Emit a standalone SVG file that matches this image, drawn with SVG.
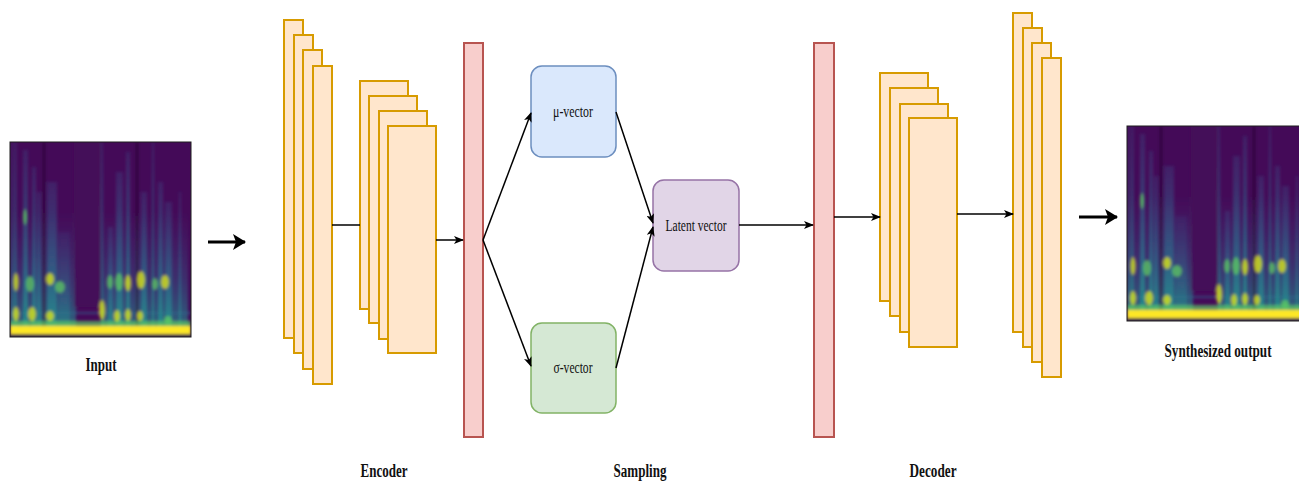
<svg xmlns="http://www.w3.org/2000/svg" xmlns:xlink="http://www.w3.org/1999/xlink" width="1299" height="482" viewBox="0 0 1299 482">
<style>
.layer{fill:#ffe6cc;stroke:#d79b00;stroke-width:2}
.bar{fill:#f8cecc;stroke:#b85450;stroke-width:2}
.edge{fill:none;stroke:#000;stroke-width:1.5}
.big{fill:none;stroke:#000;stroke-width:3}
.nl{font-family:"Liberation Serif","Times New Roman",serif;font-size:17px;fill:#111;text-anchor:middle}
.lb{font-family:"Liberation Serif","Times New Roman",serif;font-size:19px;font-weight:bold;fill:#111;text-anchor:middle}
.st{fill:url(#streak)}
.dk{fill:#2a0638}
.gr{fill:#5ec962;opacity:0.75}
.ye{fill:#d8e219;opacity:0.8}
</style>
<defs>
<marker id="arr" markerWidth="10" markerHeight="8" refX="9" refY="4" orient="auto" markerUnits="userSpaceOnUse">
<path d="M0,0 L10,4 L0,8 L2.5,4 z" fill="#000"/>
</marker>
<marker id="arrBig" markerWidth="14" markerHeight="16" refX="12" refY="8" orient="auto" markerUnits="userSpaceOnUse">
<path d="M0,0 L13,8 L0,16 L3,8 z" fill="#000"/>
</marker>
<linearGradient id="streak" x1="0" y1="0" x2="0" y2="1">
<stop offset="0" stop-color="#3b528b" stop-opacity="0.3"/>
<stop offset="0.6" stop-color="#2c728e" stop-opacity="0.7"/>
<stop offset="1" stop-color="#21918c" stop-opacity="0.95"/>
</linearGradient>
<linearGradient id="haze" x1="0" y1="0" x2="0" y2="1">
<stop offset="0" stop-color="#3b528b" stop-opacity="0"/>
<stop offset="0.55" stop-color="#31688e" stop-opacity="0.4"/>
<stop offset="1" stop-color="#21918c" stop-opacity="0.75"/>
</linearGradient>
<filter id="soft" x="-5%" y="-5%" width="110%" height="110%">
<feGaussianBlur stdDeviation="1.6"/>
</filter>
<clipPath id="specClip"><rect x="0" y="0" width="181" height="195"/></clipPath>
<g id="spec">
<rect x="0" y="0" width="181" height="195" fill="#440a58"/>
<g clip-path="url(#specClip)">
<g filter="url(#soft)">
<rect x="0" y="70" width="66" height="125" fill="url(#haze)"/>
<rect x="92" y="70" width="86" height="125" fill="url(#haze)"/>
<rect x="0" y="170" width="181" height="2" fill="#31688e" opacity="0.6"/>
<rect x="1" y="0" width="1.5" height="195" class="st"/>
<rect x="4" y="0" width="2.5" height="195" class="st"/>
<rect x="13" y="8" width="5" height="187" class="st"/>
<rect x="22" y="25" width="4" height="170" class="st"/>
<rect x="27" y="50" width="4" height="145" class="st"/>
<rect x="37" y="40" width="10" height="155" class="st"/>
<rect x="48" y="90" width="12" height="100" class="st" opacity="0.6"/>
<rect x="91" y="0" width="2" height="195" class="st"/>
<rect x="98" y="85" width="5" height="110" class="st"/>
<rect x="106" y="30" width="7" height="165" class="st"/>
<rect x="116" y="10" width="4" height="185" class="st"/>
<rect x="131" y="50" width="6" height="145" class="st"/>
<rect x="142" y="0" width="2" height="195" class="st"/>
<rect x="148" y="40" width="5" height="155" class="st"/>
<rect x="155" y="60" width="7" height="135" class="st"/>
<rect x="169" y="50" width="2" height="145" class="st"/>
<rect x="33" y="0" width="2" height="185" class="dk"/>
<rect x="126" y="0" width="2" height="185" class="dk"/>
<rect x="64" y="0" width="26" height="165" fill="#440a58" opacity="0.75"/>
<ellipse cx="15" cy="75" rx="2" ry="8" class="gr"/>
<ellipse cx="6" cy="140" rx="2.5" ry="9" class="ye"/>
<ellipse cx="20" cy="142" rx="4" ry="8" class="gr"/>
<ellipse cx="40" cy="137" rx="4" ry="6" class="ye"/>
<ellipse cx="50" cy="145" rx="5" ry="6" class="gr" opacity="0.5"/>
<ellipse cx="6" cy="172" rx="3" ry="7" class="ye"/>
<ellipse cx="22" cy="172" rx="4" ry="7" class="ye"/>
<ellipse cx="40" cy="174" rx="4" ry="5" class="ye"/>
<ellipse cx="92" cy="168" rx="3" ry="10" class="ye"/>
<ellipse cx="100" cy="140" rx="3" ry="7" class="gr"/>
<ellipse cx="109" cy="140" rx="4" ry="9" class="gr"/>
<ellipse cx="118" cy="141" rx="3" ry="8" class="ye"/>
<ellipse cx="131" cy="138" rx="4" ry="9" class="ye"/>
<ellipse cx="145" cy="142" rx="3" ry="6" class="gr"/>
<ellipse cx="155" cy="140" rx="4" ry="7" class="ye"/>
<ellipse cx="107" cy="174" rx="3" ry="6" class="ye"/>
<ellipse cx="118" cy="173" rx="3" ry="6" class="ye"/>
<ellipse cx="130" cy="174" rx="3" ry="5" class="ye"/>
<ellipse cx="158" cy="178" rx="4" ry="4" class="gr"/>
<rect x="0" y="179" width="181" height="7" fill="#5ec962" opacity="0.7"/>
<rect x="0" y="184" width="181" height="8" fill="#fde725"/>
<rect x="0" y="192" width="181" height="4" fill="#2a1a4a"/>
</g>
</g>
<rect x="0" y="0" width="181" height="195" fill="none" stroke="#1e1e1e" stroke-width="1"/>
</g>
</defs>
<rect x="0" y="0" width="1299" height="482" fill="#ffffff"/>

<g id="input">
<use xlink:href="#spec" href="#spec" x="10" y="142"/>
<text class="lb" transform="translate(101,371) scale(0.68,1)" x="0" y="0" textLength="45.6" lengthAdjust="spacingAndGlyphs">Input</text>
</g>

<g id="encoder-conv1">
<rect class="layer" x="284" y="20" width="19" height="318"/>
<rect class="layer" x="294" y="35" width="19" height="318"/>
<rect class="layer" x="303" y="50" width="19" height="319"/>
<rect class="layer" x="313" y="66" width="19" height="318"/>
</g>
<g id="encoder-conv2">
<rect class="layer" x="360" y="81" width="48" height="228"/>
<rect class="layer" x="369" y="96" width="48" height="227"/>
<rect class="layer" x="379" y="111" width="48" height="228"/>
<rect class="layer" x="388" y="126" width="48" height="227"/>
</g>
<g id="encoder-dense">
<rect class="bar" x="464" y="43" width="19" height="394"/>
</g>
<g id="encoder-label">
<text class="lb" transform="translate(384,477) scale(0.68,1)" x="0" y="0" textLength="69.1" lengthAdjust="spacingAndGlyphs">Encoder</text>
</g>

<g id="mu">
<rect x="531" y="66" width="85" height="91" rx="11" fill="#dae8fc" stroke="#6c8ebf" stroke-width="1.5"/>
<text class="nl" transform="translate(573,117) scale(0.68,1)" x="0" y="0" textLength="58.8" lengthAdjust="spacingAndGlyphs">μ-vector</text>
</g>
<g id="sigma">
<rect x="531" y="323" width="85" height="90" rx="11" fill="#d5e8d4" stroke="#82b366" stroke-width="1.5"/>
<text class="nl" transform="translate(573,373) scale(0.68,1)" x="0" y="0" textLength="57.4" lengthAdjust="spacingAndGlyphs">σ-vector</text>
</g>
<g id="latent">
<rect x="653" y="180" width="86" height="91" rx="11" fill="#e1d5e7" stroke="#9673a6" stroke-width="1.5"/>
<text class="nl" transform="translate(696,231) scale(0.68,1)" x="0" y="0" textLength="89.7" lengthAdjust="spacingAndGlyphs">Latent vector</text>
</g>
<g id="sampling-label">
<text class="lb" transform="translate(640,477) scale(0.68,1)" x="0" y="0" textLength="77.9" lengthAdjust="spacingAndGlyphs">Sampling</text>
</g>

<g id="decoder-dense">
<rect class="bar" x="814" y="43" width="20" height="394"/>
</g>
<g id="decoder-conv1">
<rect class="layer" x="880" y="73" width="48" height="228"/>
<rect class="layer" x="890" y="88" width="48" height="228"/>
<rect class="layer" x="900" y="104" width="48" height="228"/>
<rect class="layer" x="909" y="118" width="48" height="229"/>
</g>
<g id="decoder-conv2">
<rect class="layer" x="1013" y="13" width="19" height="319"/>
<rect class="layer" x="1023" y="28" width="19" height="319"/>
<rect class="layer" x="1032" y="43" width="19" height="319"/>
<rect class="layer" x="1042" y="58" width="19" height="319"/>
</g>
<g id="decoder-label">
<text class="lb" transform="translate(933,477) scale(0.68,1)" x="0" y="0" textLength="69.1" lengthAdjust="spacingAndGlyphs">Decoder</text>
</g>

<g id="output">
<use xlink:href="#spec" href="#spec" x="1127" y="126"/>
</g>
<g id="output-label">
<text class="lb" transform="translate(1218,357) scale(0.68,1)" x="0" y="0" textLength="157.4" lengthAdjust="spacingAndGlyphs">Synthesized output</text>
</g>

<g id="connectors">
<line class="big" x1="208" y1="242" x2="245" y2="242" marker-end="url(#arrBig)"/>
<line class="edge" x1="332" y1="225" x2="360" y2="225"/>
<line class="edge" x1="436" y1="240" x2="463" y2="240" marker-end="url(#arr)"/>
<line class="edge" x1="483" y1="240" x2="531" y2="113" marker-end="url(#arr)"/>
<line class="edge" x1="483" y1="240" x2="531" y2="366" marker-end="url(#arr)"/>
<line class="edge" x1="616" y1="112" x2="653" y2="223" marker-end="url(#arr)"/>
<line class="edge" x1="616" y1="368" x2="653" y2="227" marker-end="url(#arr)"/>
<line class="edge" x1="739" y1="225" x2="813" y2="225" marker-end="url(#arr)"/>
<line class="edge" x1="834" y1="217" x2="880" y2="217" marker-end="url(#arr)"/>
<line class="edge" x1="957" y1="214" x2="1013" y2="214" marker-end="url(#arr)"/>
<line class="big" x1="1079" y1="217" x2="1117" y2="217" marker-end="url(#arrBig)"/>
</g>
</svg>
